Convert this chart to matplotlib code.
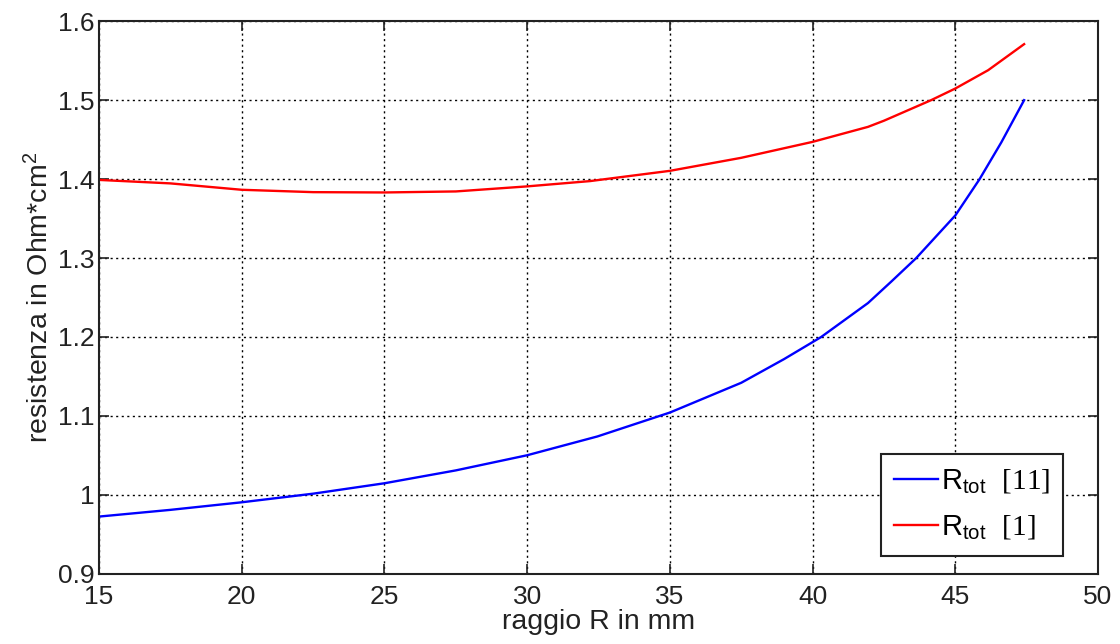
import numpy as np
import matplotlib.pyplot as plt

plt.rcParams['font.family'] = ['Liberation Sans', 'DejaVu Sans']
plt.rcParams['mathtext.fontset'] = 'custom'
plt.rcParams['mathtext.rm'] = 'Liberation Serif'
plt.rcParams['mathtext.sf'] = 'Liberation Sans'
plt.rcParams['mathtext.it'] = 'Liberation Sans:italic'

# raggio R [mm] e resistenza totale [Ohm*cm^2]
r_11 = [15, 17.5, 20, 22.5, 25, 27.5, 30, 32.46, 35, 37.5, 39.0, 40.3,
        41.94, 42.75, 43.63, 45, 45.85, 46.61, 47.41]
rtot_11 = [0.9725, 0.981, 0.9906, 1.0015, 1.0147, 1.031, 1.0502, 1.074, 1.1043, 1.142, 1.172, 1.2,
           1.243, 1.27, 1.3, 1.354, 1.4, 1.4465, 1.5]

r_1 = [15, 17.5, 20, 22.5, 25, 27.5, 30, 32.2, 35, 37.5, 40, 41.94, 42.5,
       44.15, 45, 46.15, 47.41]
rtot_1 = [1.399, 1.3946, 1.3865, 1.3835, 1.3831, 1.3844, 1.3908, 1.3975, 1.4105, 1.427, 1.4472, 1.4662, 1.474,
          1.5, 1.5148, 1.538, 1.571]

x_ticks = [15, 20, 25, 30, 35, 40, 45, 50]
y_ticks = [0.9, 1.0, 1.1, 1.2, 1.3, 1.4, 1.5, 1.6]

fig = plt.figure(figsize=(11.2, 6.44), dpi=100)
ax = fig.add_axes([0.0884, 0.109, 0.892, 0.858])

ax.plot(r_11, rtot_11, color='#0000ff', lw=1.7,
        label=r'$\mathsf{R}_{\mathsf{tot}}\ \ \mathrm{[11]}\quad\ $')
ax.plot(r_1, rtot_1, color='#ff0000', lw=1.7,
        label=r'$\mathsf{R}_{\mathsf{tot}}\ \ \mathrm{[1]}$')

ax.set_xlim(15, 50)
ax.set_ylim(0.9, 1.6)
ax.set_xticks(x_ticks)
ax.set_yticks(y_ticks)
ax.set_yticklabels(['%g' % v for v in y_ticks])
ax.tick_params(direction='in', length=7, width=1.2, labelsize=19, colors='#222222')
ax.tick_params(axis='y', pad=3)
ax.tick_params(axis='x', pad=8)
ax.tick_params(top=True, right=True)
ax.grid(True, color='black', linestyle=(0, (1.5, 2.5)), linewidth=1.0)
for s in ax.spines.values():
    s.set_linewidth(1.5)
    s.set_color('#222222')

ax.set_xlabel('raggio R in mm', fontsize=20.5, color='#222222', labelpad=0)
ax.set_ylabel('resistenza in Ohm*cm$^{\\mathsf{2}}$', fontsize=20.5, color='#222222', labelpad=3)

leg = ax.legend(loc='lower right', bbox_to_anchor=(0.965, 0.033), fontsize=21,
                fancybox=False, framealpha=1, edgecolor='#222222',
                handlelength=1.5, handletextpad=0.1, borderpad=0.45, labelspacing=0.6,
                borderaxespad=0)
leg.get_frame().set_linewidth(1.5)

fig.savefig('out.png', dpi=100)
